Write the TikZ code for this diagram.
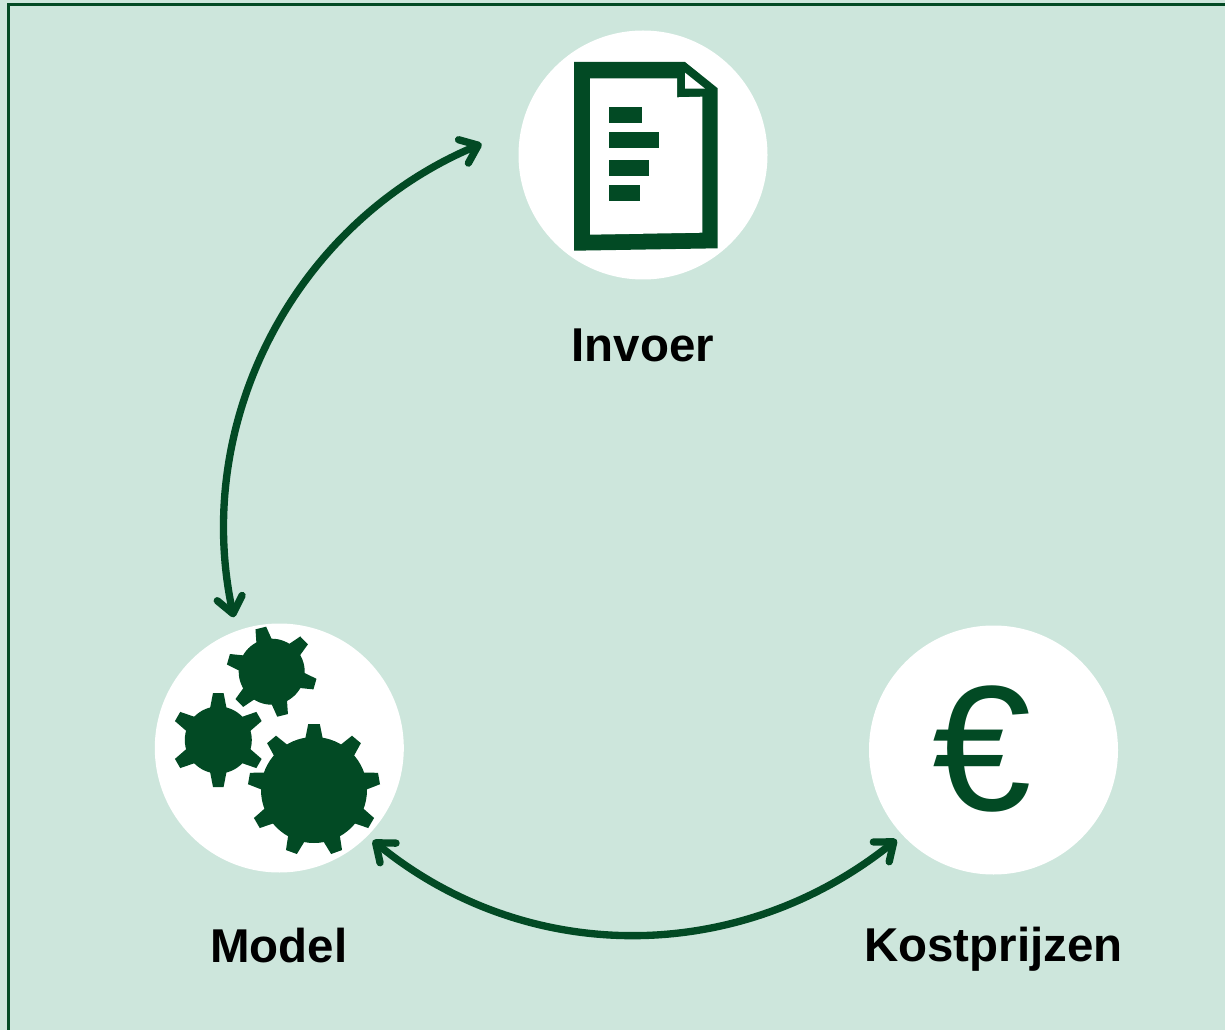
\documentclass[tikz,border=0pt]{standalone}
\usepackage{fontspec}
\setmainfont{Liberation Sans}
\usetikzlibrary{arrows.meta}
\definecolor{bgmint}{HTML}{CDE6DC}
\definecolor{darkgreen}{HTML}{024A24}
\tikzset{
  hub/.style={circle,fill=white,draw=none,minimum size=186.75pt,inner sep=0pt,outer sep=0pt},
  caption/.style={anchor=base,inner sep=0pt,text=black,font=\fontsize{35.6pt}{40pt}\selectfont\bfseries},
  cycle arrow/.style={draw=darkgreen,line width=5.5pt,line cap=round,line join=round,
    {Straight Barb[length=12pt,width=19pt,round]}-{Straight Barb[length=12pt,width=19pt,round]}},
  icon/.style={fill=darkgreen,draw=none},
  frameline/.style={draw=darkgreen,line width=1.9pt}
}
\newcommand{\drawgear}[8]{%
  \begin{scope}[shift={(#1,#2)}]
    \fill[icon] (0,0) circle[radius=#3*0.75pt];
    \foreach \k in {1,...,#5}{
      \begin{scope}[rotate=#6+360*\k/#5]
        \fill[icon] (#3-2,-#7) -- (#4,-#8) -- (#4,#8) -- (#3-2,#7) -- cycle;
      \end{scope}
    }
  \end{scope}
}
\begin{document}
\begin{tikzpicture}[x=0.75pt,y=-0.75pt]
  \useasboundingbox (0,0) rectangle (1225,1030);
  \fill[bgmint] (0,0) rectangle (1225,1030);
  \coordinate (frameBL) at (8.7,1030);
  \coordinate (frameTL) at (8.7,4.7);
  \coordinate (frameTR) at (1225,4.7);
  \draw[frameline] (frameBL) -- (frameTL) -- (frameTR);

  \node[hub] (invoer) at (643,155) {};
  \node[hub] (model) at (279.3,748) {};
  \node[hub] (kost) at (993.5,750) {};

  % document icon
  \fill[icon] (574,62) -- (685,62) -- (717.7,88.3) -- (717.7,248.3) -- (574,250.7) -- cycle;
  \fill[white] (590,78.3) -- (677,78.3) -- (677,97.3) -- (702.3,96.7) -- (702.3,232.7) -- (590,234.7) -- cycle;
  \fill[white] (685,72.7) -- (705,88.7) -- (685,88.7) -- cycle;
  \fill[icon] (609,106.7) rectangle (642.3,122.7);
  \fill[icon] (609,132) rectangle (659.3,148);
  \fill[icon] (609,160) rectangle (649.3,176);
  \fill[icon] (609,185) rectangle (640,201);

  % gears
  \drawgear{271.7}{671.7}{33}{45}{6}{104}{8}{5.5}
  \drawgear{218.3}{740}{33.5}{47}{6}{90}{8.3}{5.3}
  \drawgear{314}{790}{53}{66}{9}{90}{8.8}{5.8}

  % euro
  \node[inner sep=0pt,text=darkgreen,font=\fontsize{134pt}{134pt}\selectfont] (euro) at (982,749) {€};

  % labels
  \node[caption] (lblinvoer) at (643,362) {Invoer};
  \node[caption] (lblmodel) at (279,962.5) {Model};
  \node[caption] (lblkost) at (993.5,961.5) {Kostprijzen};

  % connectors
  \draw[cycle arrow,shorten >=32.6pt,shorten <=10.5pt]
    (model.110.2) .. controls (191.6,420.4) and (295.7,221.8) .. (invoer.167.3);
  \draw[cycle arrow,shorten >=5.6pt,shorten <=5.3pt]
    (model.-45.8) .. controls (528,967) and (740,965) .. (kost.223.1);
\end{tikzpicture}
\end{document}
